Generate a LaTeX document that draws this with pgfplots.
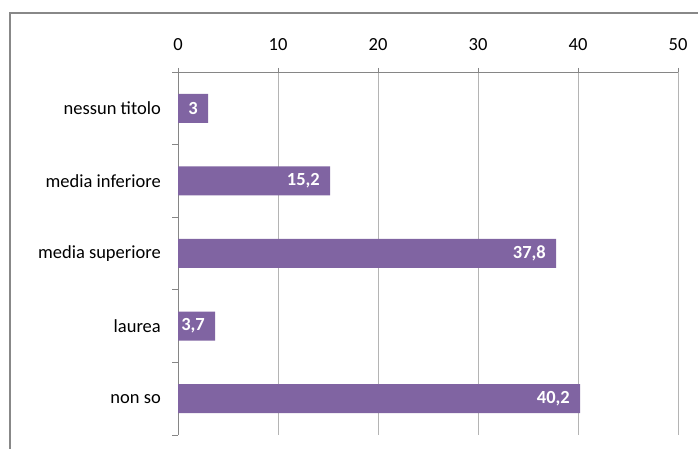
\documentclass[border=0pt]{standalone}
\usepackage{pgfplots}
\pgfplotsset{compat=1.18}
\usepackage{fontspec}
\setmainfont{Carlito}
\definecolor{barpurple}{HTML}{8064A2}
\definecolor{axgray}{HTML}{868686}
\definecolor{gridgray}{HTML}{B4B4B4}
\definecolor{framegray}{HTML}{888888}
\begin{document}
\begin{tikzpicture}[x=1pt,y=1pt]
\path[use as bounding box] (0,0) rectangle (698,449);
\begin{scope}
\clip (0,0) rectangle (698,449);
\draw[framegray, line width=2pt] (10,-20) -- (10,436) -- (720,436);
\end{scope}
\begin{axis}[
  at={(178pt,14pt)}, anchor=south west,
  scale only axis, width=500pt, height=363pt,
  xmin=0, xmax=50, ymin=-0.5, ymax=4.5,
  axis x line*=top, axis y line*=left,
  axis line style={axgray, line width=0.8pt},
  xtick={0,10,...,50},
  ytick={0,1,2,3,4},
  yticklabels={non so, laurea, media superiore, media inferiore, nessun titolo},
  minor ytick={-0.5,0.5,1.5,2.5,3.5,4.5},
  tick align=outside,
  major tick length=4pt, minor tick length=6pt,
  every major y tick/.style={draw=none},
  every minor y tick/.style={draw=axgray, line width=0.8pt},
  every major x tick/.style={draw=axgray, line width=0.8pt},
  xmajorgrids, major grid style={gridgray, line width=0.8pt},
  /pgf/number format/assume math mode=true,
  tick label style={font=\fontsize{18.5}{20}\selectfont, text=black},
  xticklabel style={anchor=south, inner sep=0pt, yshift=17pt},
  yticklabel style={anchor=east, inner sep=0pt, xshift=-13pt},
  xbar, bar width=29pt,
  nodes near coords={\pgfmathprintnumber[use comma]{\pgfplotspointmeta}},
  nodes near coords style={anchor=east, inner sep=0pt, xshift=-10pt, text=white, font=\fontsize{18.5}{20}\selectfont\bfseries},
  clip=false,
]
\addplot[fill=barpurple, draw=none] coordinates {
  (40.2,0) (3.7,1) (37.8,2) (15.2,3) (3,4)
};
\end{axis}
\end{tikzpicture}
\end{document}
